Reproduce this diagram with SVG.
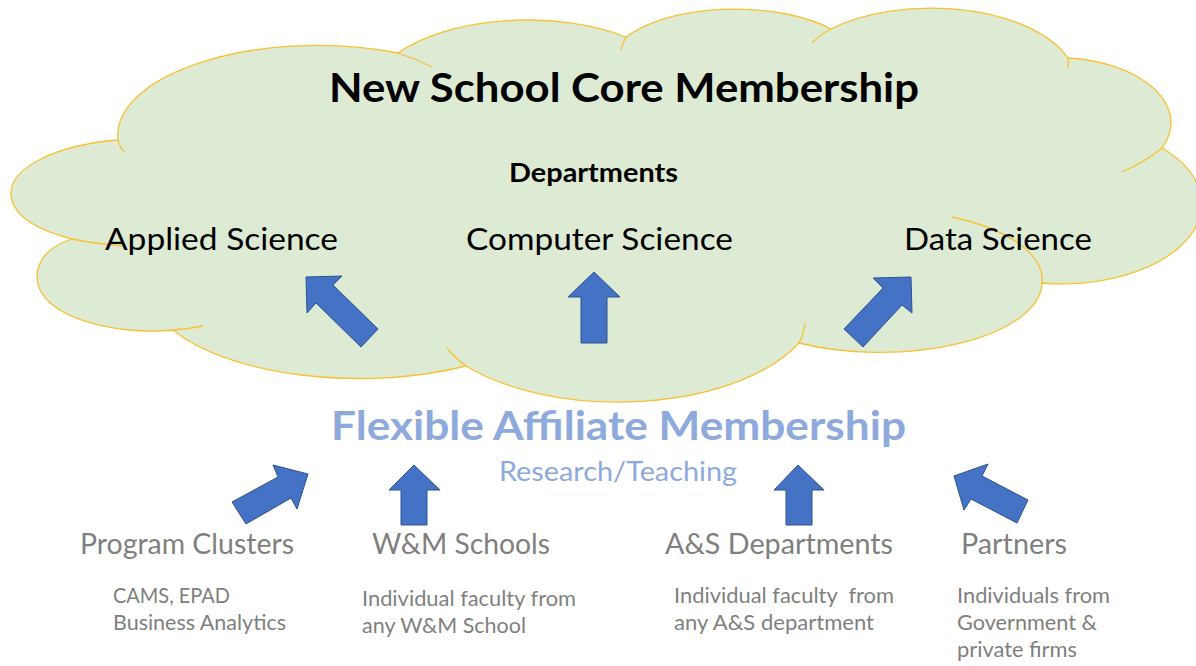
<svg xmlns="http://www.w3.org/2000/svg" width="1196" height="666" viewBox="0 0 1196 666">
  <style>
    text { font-family: Lato, "Open Sans", "Liberation Sans", sans-serif; }
    .cloud { fill: #DEEBD4; stroke: #F7C133; stroke-width: 1.3; }
    .seam { fill: none; stroke: #F7C133; stroke-width: 1.3; }
    .arrow { fill: #4472C4; stroke: #2F528F; stroke-width: 1; stroke-linejoin: miter; }
    .title { font-size: 41px; font-weight: 700; fill: #000; }
    .subhead { font-size: 26px; font-weight: 700; fill: #000; }
    .dept { font-size: 31px; fill: #000; }
    .affil { font-size: 40px; font-weight: 700; fill: #8EA9DB; }
    .affil-sub { font-size: 27px; fill: #8EA9DB; }
    .source { font-size: 28px; fill: #7F7F7F; }
    .note { font-size: 21px; fill: #7F7F7F; }
  </style>

  <rect width="1196" height="666" fill="#FFFFFF"/>

  <!-- Core membership cloud -->
  <g id="core-cloud">
    <path class="cloud" d="M 118 140
      A 200 90 0 0 1 398 53
      A 156 75 0 0 1 626 37
      A 125 55 0 0 1 831 29
      A 145 75 0 0 1 1068 58
      A 114 65 0 0 1 1162 148
      A 140 80 0 0 1 1042 283
      A 162 70 0 0 1 799 343
      A 200 103 0 0 1 466 366
      A 210 90 0 0 1 173 330
      C 120 336 37 318 37 277
      C 37 258 52 245 72 239
      C 30 228 11 212 11 193
      C 11 168 55 145 118 140 Z"/>
    <!-- inner seams where the lobes overlap -->
    <path class="seam" d="M 118 140 Q 119 147 125 152"/>
    <path class="seam" d="M 398 53 Q 416 59 432 67"/>
    <path class="seam" d="M 626 37 Q 623 43 621 50"/>
    <path class="seam" d="M 812 43 Q 820 35 831 29"/>
    <path class="seam" d="M 1068 58 Q 1069 63 1068 68"/>
    <path class="seam" d="M 1162 148 Q 1145 162 1122 172"/>
    <path class="seam" d="M 952 217 A 162 70 0 0 1 1042 283"/>
    <path class="seam" d="M 805 323 Q 804 334 799 343"/>
    <path class="seam" d="M 466 366 Q 455 358 447 348"/>
    <path class="seam" d="M 173 330 Q 188 329 203 326"/>
    <path class="seam" d="M 72 239 Q 97 244 125 246"/>
    <text class="title" x="329" y="102" textLength="590" lengthAdjust="spacingAndGlyphs">New School Core Membership</text>
    <text class="subhead" x="509" y="182" textLength="169" lengthAdjust="spacingAndGlyphs">Departments</text>
  </g>

  <g id="dept-applied-science">
    <text class="dept" x="105" y="250" textLength="233" lengthAdjust="spacingAndGlyphs">Applied Science</text>
  </g>
  <g id="dept-computer-science">
    <text class="dept" x="466" y="250" textLength="267" lengthAdjust="spacingAndGlyphs">Computer Science</text>
  </g>
  <g id="dept-data-science">
    <text class="dept" x="904" y="250" textLength="188" lengthAdjust="spacingAndGlyphs">Data Science</text>
  </g>

  <g id="affiliate-membership">
    <text class="affil" x="331" y="440" textLength="575" lengthAdjust="spacingAndGlyphs">Flexible Affiliate Membership</text>
    <text class="affil-sub" x="499" y="481" textLength="238" lengthAdjust="spacingAndGlyphs">Research/Teaching</text>
  </g>

  <g id="program-clusters">
    <text class="source" x="80" y="554" textLength="214" lengthAdjust="spacingAndGlyphs">Program Clusters</text>
    <text class="note" x="113" y="603" textLength="117" lengthAdjust="spacingAndGlyphs">CAMS, EPAD</text>
    <text class="note" x="113" y="630" textLength="173" lengthAdjust="spacingAndGlyphs">Business Analytics</text>
  </g>

  <g id="wm-schools">
    <text class="source" x="372" y="554" textLength="178" lengthAdjust="spacingAndGlyphs">W&amp;M Schools</text>
    <text class="note" x="362" y="606" textLength="214" lengthAdjust="spacingAndGlyphs">Individual faculty from</text>
    <text class="note" x="362" y="633" textLength="164" lengthAdjust="spacingAndGlyphs">any W&amp;M School</text>
  </g>

  <g id="as-departments">
    <text class="source" x="665" y="554" textLength="228" lengthAdjust="spacingAndGlyphs">A&amp;S Departments</text>
    <text class="note" x="674" y="603" xml:space="preserve" textLength="220" lengthAdjust="spacingAndGlyphs">Individual faculty  from</text>
    <text class="note" x="674" y="630" textLength="200" lengthAdjust="spacingAndGlyphs">any A&amp;S department</text>
  </g>

  <g id="partners">
    <text class="source" x="961" y="554" textLength="106" lengthAdjust="spacingAndGlyphs">Partners</text>
    <text class="note" x="957" y="603" textLength="153" lengthAdjust="spacingAndGlyphs">Individuals from</text>
    <text class="note" x="957" y="630" textLength="140" lengthAdjust="spacingAndGlyphs">Government &amp;</text>
    <text class="note" x="957" y="657" textLength="120" lengthAdjust="spacingAndGlyphs">private firms</text>
  </g>

  <!-- Block arrows -->
  <g id="connectors">
    <polygon class="arrow" points="306,277 342,276 333,285 378,329 361,347 316,303 307,313"/>
    <polygon class="arrow" points="594,272 620,297 607,297 607,343 581,343 581,297 568,297"/>
    <polygon class="arrow" points="911,277 912,313 902,305 863,347 844,329 883,288 873,278"/>
    <polygon class="arrow" points="273,465 308,474 297,509 291,498 246,524 232,502 278,477"/>
    <polygon class="arrow" points="414,465 440,490 427,490 427,525 401,525 401,490 389,490"/>
    <polygon class="arrow" points="798,465 824,490 812,490 812,525 786,525 786,490 774,490"/>
    <polygon class="arrow" points="954,476 988,464 982,476 1028,500 1017,523 971,499 964,510"/>
  </g>
</svg>
